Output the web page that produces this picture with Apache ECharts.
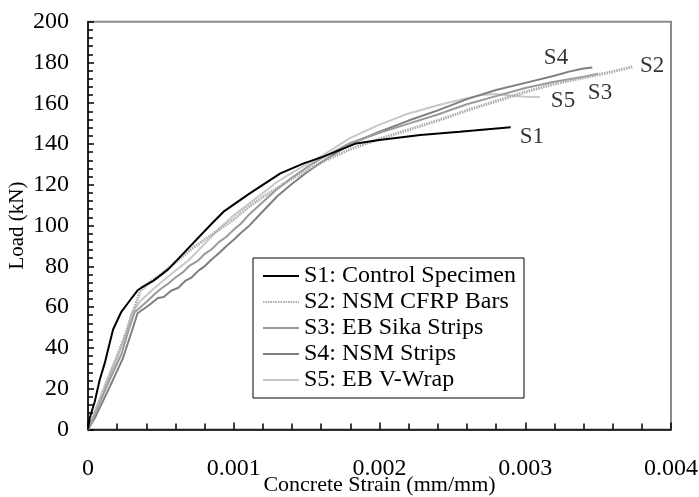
<!DOCTYPE html>
<html>
<head>
<meta charset="utf-8">
<script src="https://cdn.jsdelivr.net/npm/echarts@6/dist/echarts.min.js"></script>
<style>html,body{margin:0;padding:0;background:#fff;}#c{width:699px;height:497px;}</style>
</head>
<body>
<div id="c"></div>
<script>
const xTickLabels = ['0','0.001','0.002','0.003','0.004'];
const seriesNames = ['S1: Control Specimen','S2: NSM CFRP Bars','S3: EB Sika Strips','S4: NSM Strips','S5: EB V-Wrap'];

const s1 = [[0,0],[0.000012,5.6],[0.000046,13.6],[0.00008,24.2],[0.000115,32.5],[0.000137,39],[0.000172,49],[0.000229,57.7],[0.000274,62],[0.000343,68.4],[0.000366,69.5],[0.00045,73],[0.00055,78.5],[0.00065,86],[0.00075,93.5],[0.00085,101],[0.00093,106.8],[0.00111,115.8],[0.00132,125.6],[0.00148,130.5],[0.00161,133.7],[0.00184,140.3],[0.002,142],[0.00228,144.4],[0.00255,146],[0.0029,148.2]];
const s2 = [[0,0],[0.00004,7],[0.00012,22],[0.0002,36],[0.00026,47],[0.0003,56],[0.00033,62],[0.00036,68],[0.00042,72],[0.0005,76],[0.0006,82],[0.0007,88],[0.0008,93],[0.0009,98],[0.001,103],[0.0011,109],[0.0012,114],[0.0013,118.5],[0.0014,123],[0.0016,131],[0.0018,137.5],[0.002,142.5],[0.0022,147],[0.0024,151.5],[0.0026,156.5],[0.0028,161],[0.003,165.5],[0.0032,169.5],[0.0034,172.5],[0.0036,175.5],[0.00374,178]];
const s3 = [[0,0],[0.00005,8],[0.00014,23],[0.00023,37],[0.00028,49],[0.00032,57.5],[0.0004,62.5],[0.00046,66.5],[0.0005,69],[0.00055,71.5],[0.0006,74.5],[0.00065,77],[0.0007,80.5],[0.00075,82.5],[0.0008,86],[0.00085,88.5],[0.0009,92],[0.00095,94.5],[0.001,98],[0.00105,101],[0.0011,105],[0.0012,111.5],[0.0013,118],[0.0014,123.5],[0.0015,128.5],[0.0016,133],[0.0018,140.5],[0.002,145.5],[0.0022,150],[0.0024,154.5],[0.0026,159.5],[0.0028,163.5],[0.003,167.5],[0.0032,170.5],[0.0034,173],[0.0035,174.5]];
const s4 = [[0,0],[0.00005,6],[0.00015,21],[0.00024,35],[0.0003,48],[0.00034,57],[0.00042,61],[0.00048,64.5],[0.00052,65],[0.00057,68],[0.00062,69.5],[0.00067,73],[0.00071,74.5],[0.00076,78],[0.0008,80],[0.00085,83.5],[0.0009,86.5],[0.00095,90],[0.001,93],[0.00105,96.5],[0.0011,99.5],[0.0012,107],[0.0013,114.5],[0.0014,120.5],[0.0015,126],[0.0016,131],[0.0018,140],[0.002,146],[0.0022,151.5],[0.0024,156.5],[0.0026,162],[0.0028,166.5],[0.003,170],[0.0032,173.5],[0.0033,175.5],[0.0034,177],[0.00346,177.5]];
const s5 = [[0,0],[0.00004,7],[0.00013,23],[0.00021,37],[0.00027,49],[0.0003,57],[0.00036,63],[0.00045,69],[0.00055,75],[0.00069,83],[0.0008,91],[0.0009,98.5],[0.001,105],[0.0011,110.5],[0.0012,116],[0.0013,121.5],[0.0014,126],[0.0016,134],[0.0018,143],[0.002,149.5],[0.0022,155],[0.0024,159],[0.0026,162.5],[0.0027,164],[0.0028,164.5],[0.0029,163.8],[0.003,163.2],[0.0031,163]];

const annotNames = ['S1','S2','S3','S4','S5'];
const annotX = [0.003046,0.00387,0.003513,0.003211,0.003259];
const annotY = [143.4,178.5,165.2,182.4,161];

const FONT = "'Liberation Serif','Times New Roman',serif";
const chart = echarts.init(document.getElementById('c'));

const styles = [
  {color:'#000000', width:2, type:'solid'},
  {color:'#ababab', width:3, type:[1.5,1]},
  {color:'#9a9a9a', width:2, type:'solid'},
  {color:'#7f7f7f', width:2, type:'solid'},
  {color:'#c8c8c8', width:2, type:'solid'}
];
const dataSets = [s1,s2,s3,s4,s5];

const lineSeries = dataSets.map((d,i)=>({
  name: seriesNames[i], type:'line', data:d, symbol:'none', showSymbol:false,
  lineStyle:{color:styles[i].color, width:styles[i].width, type:styles[i].type},
  itemStyle:{color:styles[i].color}, z: 10 - i, animation:false
}));

const annot = {
  name:'annot', type:'scatter', symbolSize:0, animation:false, silent:true,
  data: annotNames.map((n,i)=>({value:[annotX[i],annotY[i]], name:n})),
  label:{show:true, position:'inside', formatter:p=>p.name, color:'#000', fontFamily:FONT, fontSize:23}
};

function tick(len, inside){ return {show:true, inside:inside, length:len, lineStyle:{color:'#000', width:1.5}}; }
function minor(len){ return {show:true, splitNumber:5, length:len, lineStyle:{color:'#000', width:1.5}}; }

chart.setOption({
  backgroundColor:'#fff',
  animation:false,
  grid:{left:88, right:28, top:21.7, bottom:67.6, outerBoundsMode:'none', containLabel:false,
        show:true, borderColor:'#8c8c8c', borderWidth:2, backgroundColor:'transparent'},
  legend:{
    data:seriesNames, orient:'vertical', left:253, top:258,
    itemWidth:36, itemHeight:14, itemGap:2, padding:[6,8,6,9],
    itemStyle:{opacity:0},
    borderColor:'#000', borderWidth:1, backgroundColor:'#fff',
    textStyle:{fontFamily:FONT, fontSize:24, color:'#000'}
  },
  xAxis:{
    type:'value', min:0, max:0.004, interval:0.001,
    name:'Concrete Strain (mm/mm)', nameLocation:'middle', nameGap:45, nameMoveOverlap:false,
    nameTextStyle:{fontFamily:FONT, fontSize:22, color:'#000'},
    axisLine:{show:true, lineStyle:{color:'#000', width:1.5}},
    axisTick:tick(7,true), minorTick:minor(6),
    axisLabel:{margin:27, fontFamily:FONT, fontSize:24, color:'#000',
      formatter:(v)=>xTickLabels[Math.round(v/0.001)]},
    splitLine:{show:false}
  },
  yAxis:{
    type:'value', min:0, max:200, interval:20,
    name:'Load (kN)', nameLocation:'middle', nameGap:60, nameRotate:90, nameMoveOverlap:false,
    nameTextStyle:{fontFamily:FONT, fontSize:21, color:'#000'},
    axisLine:{show:true, lineStyle:{color:'#000', width:1.5}},
    axisTick:tick(6,true), minorTick:minor(5),
    axisLabel:{margin:19, fontFamily:FONT, fontSize:24, color:'#000'},
    splitLine:{show:false}
  },
  series: lineSeries.concat([annot])
});
</script>
</body>
</html>
